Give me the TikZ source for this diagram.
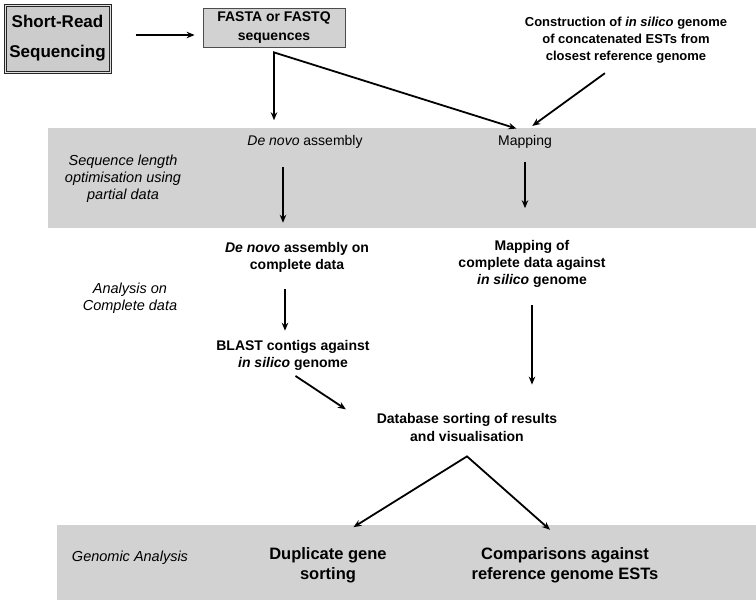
\documentclass[tikz,border=0pt]{standalone}
\usepackage{fontspec}
\setmainfont{Liberation Sans}
\usetikzlibrary{%
  arrows.meta,%
  positioning,% wg. " of "
  calc
}

\begin{document}
\begin{tikzpicture}[
  x=1pt, y=-1pt,
  >={Stealth[length=8pt,width=6.5pt]},
  line width=1.8pt,
  band/.style={fill=gray!35, draw=none},
  srcbox/.style={rectangle, minimum width=105pt, minimum height=67pt, draw=black!85, double=gray!25, double distance=1pt, line width=1pt, fill=gray!40, align=center, font=\fontsize{17}{30}\selectfont\bfseries},
  seqbox/.style={rectangle, minimum width=142pt, minimum height=39pt, draw=black!70, line width=0.8pt, fill=gray!35, align=center, font=\fontsize{14}{19}\selectfont\bfseries},
  stage/.style={align=center, font=\fontsize{14}{17}\selectfont\bfseries},
  bandtxt/.style={font=\fontsize{14}{17}\selectfont},
  note/.style={align=center, font=\fontsize{14.5}{17}\selectfont\itshape},
  result/.style={align=center, font=\fontsize{16.5}{20}\selectfont\bfseries}
]
\useasboundingbox (0,0) rectangle (756,600);

\fill[band] (48,128) rectangle (756,228);
\fill[band] (57,525) rectangle (756,600);

\node[srcbox] (srs) at (57.5,38.5) {Short-Read\\Sequencing};
\node[seqbox] (fasta) at (274,27.5) {FASTA or FASTQ\\sequences};
\node[stage, font=\fontsize{13}{17}\selectfont\bfseries] (constr) at (626,40) {Construction of \textit{in silico} genome\\of concatenated ESTs from\\closest reference genome};

\node[bandtxt] (dn) at (305,142) {\textit{De novo} assembly};
\node[bandtxt] (map) at (525,142) {Mapping};
\node[note] (seqlen) at (123,179) {Sequence length\\optimisation using\\partial data};

\node[stage] (dnc) at (297,257) {\textit{De novo} assembly on\\complete data};
\node[stage] (mapc) at (532,264) {Mapping of\\complete data against\\\textit{in silico} genome};
\node[note] (anal) at (130,298) {Analysis on\\Complete data};
\node[stage] (blast) at (293,355) {BLAST contigs against\\\textit{in silico} genome};
\node[stage, font=\fontsize{14}{18}\selectfont\bfseries] (db) at (467,427) {Database sorting of results\\and visualisation};

\node[note] (genan) at (130,558) {Genomic Analysis};
\node[result] (dup) at (328,565) {Duplicate gene\\sorting};
\node[result] (comp) at (565,565) {Comparisons against\\reference genome ESTs};

\coordinate (split) at ([yshift=-5pt]fasta.south);
\coordinate (fork) at ([yshift=-11pt]db.south);

\draw[->, shorten <=25pt, shorten >=8pt] ([yshift=3.5pt]srs.east) -- ([yshift=3.5pt]srs.east -| fasta.west);
\draw[<->, shorten <=11pt, shorten >=9pt] (split |- dn.north) -- (split) -- (map.north);
\draw[->, shorten <=10pt, shorten >=9pt] ([xshift=-13pt]constr.south) -- (map.north);

\draw[->, shorten <=14pt, shorten >=15pt] ([xshift=-22pt]dn.south) -- ([xshift=-22pt]dn.south |- dnc.north);
\draw[->, shorten <=9pt, shorten >=28pt] (map.south) -- (map.south |- mapc.north);
\draw[->, shorten <=13pt, shorten >=5pt] ([xshift=-12pt]dnc.south) -- ([xshift=-12pt]dnc.south |- blast.north);
\draw[->, shorten <=3pt, shorten >=32pt] (blast.south) -- (db.west);
\draw[->, shorten <=13pt, shorten >=24pt] (mapc.south) -- (mapc.south |- db.north);
\draw[<->, shorten <=30pt, shorten >=20pt] (dup.north) -- (fork) -- (comp.north);

\end{tikzpicture}
\end{document}
